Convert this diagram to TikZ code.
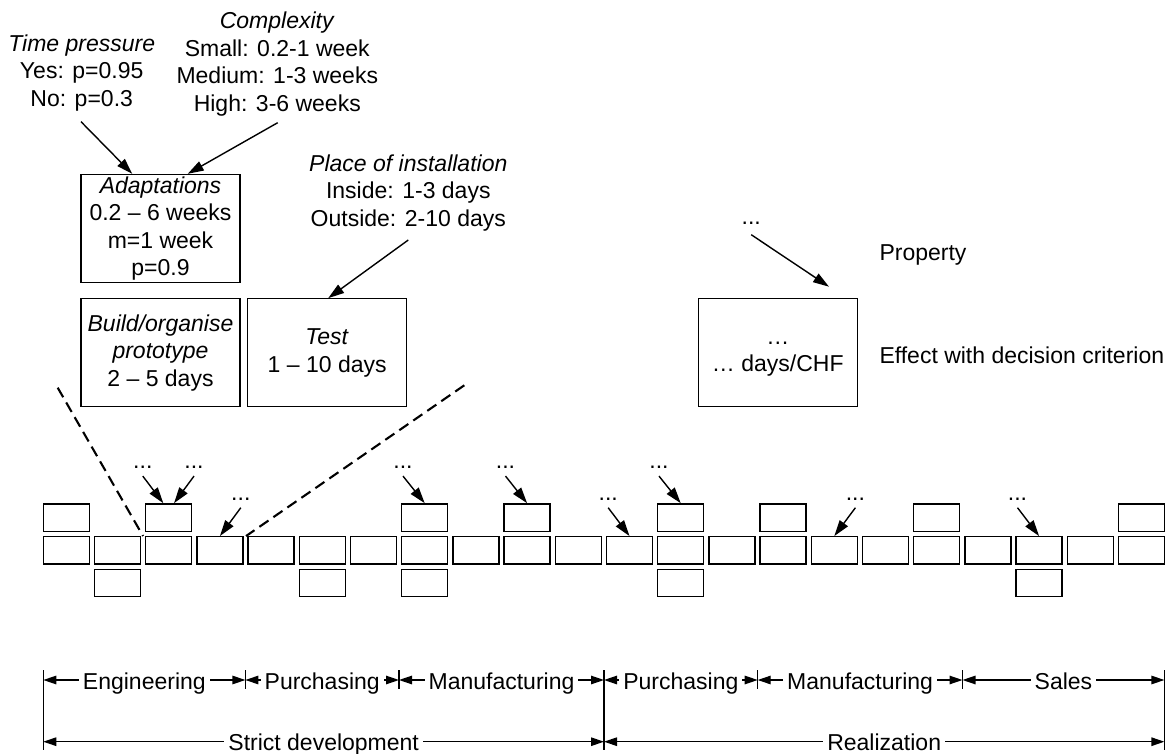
\documentclass[tikz,border=0pt]{standalone}
\usepackage{fontspec}
\setmainfont{Liberation Sans}
\usetikzlibrary{arrows.meta}
\begin{document}
\begin{tikzpicture}[x=1pt,y=-1pt,
  font=\fontsize{23}{27.5}\selectfont,
  every node/.style={inner sep=0pt},
  bigbox/.style={draw, line width=1.3pt, minimum width=159pt, minimum height=108pt, align=center},
  sbox/.style={draw, line width=1.3pt, minimum width=46pt, minimum height=27.3pt},
  txt/.style={align=center},
  dotlab/.style={anchor=base},
  arr/.style={line width=1.4pt, -{Triangle[length=16pt,width=10pt]}},
  dimarr/.style={line width=1.3pt, {Triangle[length=13pt,width=8.5pt]}-{Triangle[length=13pt,width=8.5pt]}},
  lab/.style={fill=white, inner xsep=4pt, inner ysep=1pt, anchor=base, yshift=-9pt},
  dashln/.style={line width=2.1pt, dash pattern=on 11pt off 6pt},
  tick/.style={line width=1.3pt}
]
\useasboundingbox (0,0) rectangle (1170,754);

% top-left property texts
\node[txt] (tp) at (81.7,72.8) {\textit{Time pressure}\\Yes: p=0.95\\No: p=0.3};
\node[txt] (cx) at (277.3,64) {\textit{Complexity}\\Small: 0.2-1 week\\Medium: 1-3 weeks\\High: 3-6 weeks};
\node[txt] (pi) at (408.3,192.8) {\textit{Place of installation}\\Inside: 1-3 days\\Outside: 2-10 days};

% detail boxes
\node[bigbox] (adapt) at (160.5,228.5) {\textit{Adaptations}\\0.2 – 6 weeks\\m=1 week\\p=0.9};
\node[bigbox] (build) at (160.5,352.8) {\textit{Build/organise}\\\textit{prototype}\\2 – 5 days};
\node[bigbox] (test) at (327.2,352.8) {\textit{Test}\\1 – 10 days};

% arrows into detail boxes
\coordinate (tps) at (81,121.7);
\coordinate (cxs) at (277.7,122.7);
\coordinate (pis) at (408.3,240);
\draw[arr] (tps) -- ([xshift=-28.2pt]adapt.north);
\draw[arr] (cxs) -- ([xshift=27.2pt]adapt.north);
\draw[arr] (pis) -- ([xshift=1pt]test.north);

% legend
\node[dotlab] (ld) at (751.2,224.5) {...};
\node[bigbox] (leg) at (777.8,352.4) {\strut…\\\strut… days/CHF};
\coordinate (legtip) at (829,286.7);
\draw[arr] ([yshift=-10pt]ld.south) -- (legtip);
\node[anchor=west] (prop) at (879.3,255) {Property};
\node[anchor=west] (eff) at (879.3,355) {Effect with decision criterion};

% small process boxes
\foreach \i in {0,...,21}
  \node[sbox] (m\i) at ({66.3+51.2*\i},550.35) {};
\foreach \i in {0,2,7,9,12,14,17,21}
  \node[sbox] (t\i) at ({66.3+51.2*\i},517.5) {};
\foreach \i in {1,5,7,12,19}
  \node[sbox] (b\i) at ({66.3+51.2*\i},583) {};

% dashed zoom lines
\coordinate (dl) at (57.7,387.7);
\coordinate (dr) at (464.3,385.3);
\draw[dashln] (dl) -- ([xshift=-2pt]m2.north west);
\draw[dashln] (dr) -- ([xshift=2.5pt]m3.north east);

% "..." labels with arrows
\node[dotlab] (d1) at (142.8,468.9) {...};
\node[dotlab] (d2) at (194,468.9) {...};
\node[dotlab] (d3) at (240.8,500.5) {...};
\node[dotlab] (d4) at (403,468.9) {...};
\node[dotlab] (d5) at (505.5,468.9) {...};
\node[dotlab] (d6) at (608.2,500.5) {...};
\node[dotlab] (d7) at (659,468.9) {...};
\node[dotlab] (d8) at (855.4,500.5) {...};
\node[dotlab] (d9) at (1017.5,500.5) {...};
\draw[arr] ([yshift=-7pt]d1.south) -- ([xshift=-5.4pt]t2.north);
\draw[arr] ([yshift=-7pt]d2.south) -- ([xshift=5.3pt]t2.north);
\draw[arr] ([yshift=-7pt]d3.south) -- (m3.north);
\draw[arr] ([yshift=-7pt]d4.south) -- (t7.north);
\draw[arr] ([yshift=-7pt]d5.south) -- (t9.north);
\draw[arr] ([yshift=-7pt]d6.south) -- (m11.north);
\draw[arr] ([yshift=-7pt]d7.south) -- (t12.north);
\draw[arr] ([yshift=-7pt]d8.south) -- (m15.north);
\draw[arr] ([yshift=-7pt]d9.south) -- (m19.north);

% timeline
\foreach \x in {43.3,604,1164.4}
  \draw[tick] (\x,670) -- (\x,750);
\foreach \x in {245.4,399,757.7,962.5}
  \draw[tick] (\x,670) -- (\x,689.3);
\coordinate (e0) at (43.3,680);
\coordinate (e1) at (245.4,680);
\coordinate (e2) at (399,680);
\coordinate (e3) at (604,680);
\coordinate (e4) at (757.7,680);
\coordinate (e5) at (962.5,680);
\coordinate (e6) at (1164.4,680);
\coordinate (f0) at (43.3,741.7);
\coordinate (f3) at (604,741.7);
\coordinate (f6) at (1164.4,741.7);
\draw[dimarr] (e0) -- node[lab] {Engineering} (e1);
\draw[dimarr] (e1) -- node[lab] {Purchasing} (e2);
\draw[dimarr] (e2) -- node[lab] {Manufacturing} (e3);
\draw[dimarr] (e3) -- node[lab] {Purchasing} (e4);
\draw[dimarr] (e4) -- node[lab] {Manufacturing} (e5);
\draw[dimarr] (e5) -- node[lab] {Sales} (e6);
\draw[dimarr] (f0) -- node[lab, yshift=0.3pt] {Strict development} (f3);
\draw[dimarr] (f3) -- node[lab, yshift=0.3pt] {Realization} (f6);
\end{tikzpicture}
\end{document}
